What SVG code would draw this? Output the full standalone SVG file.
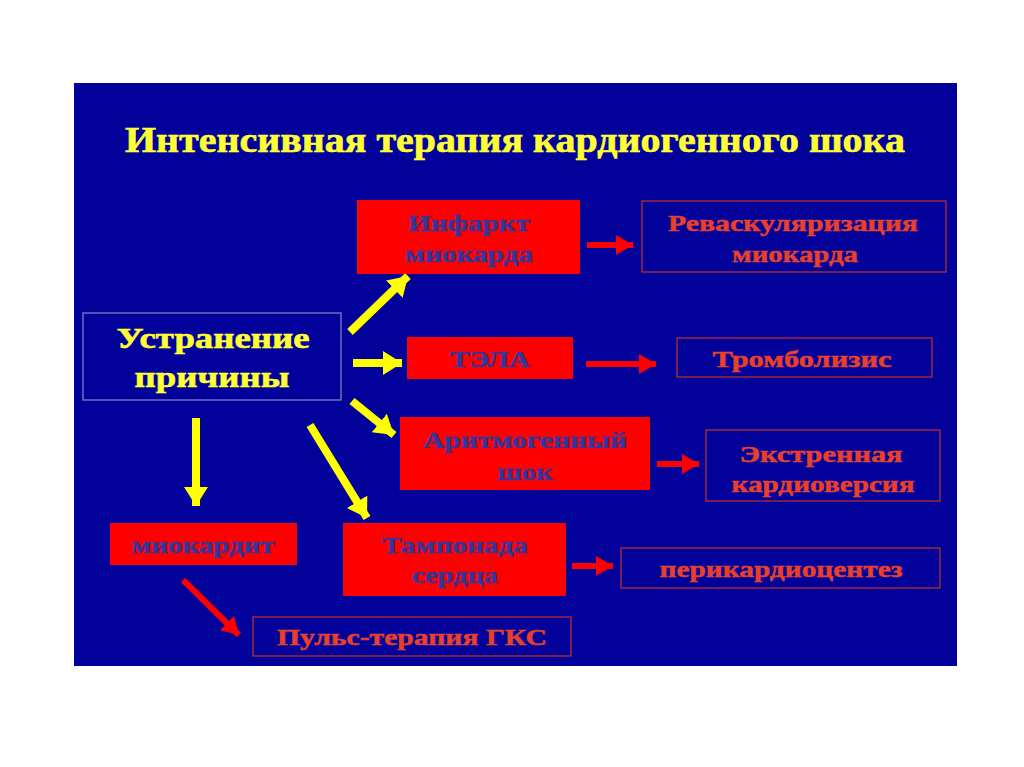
<svg xmlns="http://www.w3.org/2000/svg" width="1024" height="767" viewBox="0 0 1024 767">
<style>
text{font-family:"Liberation Serif","Times New Roman",serif;font-weight:bold;text-anchor:middle}
.title{fill:#FFFF33;stroke:#FFFF33;stroke-width:0.6;font-size:35px}
.cause{fill:#FFFF33;stroke:#FFFF33;stroke-width:0.6;font-size:30px}
.rb{fill:#FF0000}
.rt{fill:#35359A;stroke:#35359A;stroke-width:0.5;font-size:23px}
.ob{fill:none;stroke:#C8302C;stroke-width:1.2}
.ot{fill:#E8402A;stroke:#E8402A;stroke-width:0.5;font-size:24px}
.ya{stroke:#FFFF00;stroke-width:8;fill:none}
.ra{stroke:#FF0000;stroke-width:6;fill:none}
</style>
<defs>
<marker id="yh" markerUnits="userSpaceOnUse" markerWidth="26" markerHeight="26" refX="19" refY="12" orient="auto">
<path d="M0,0 L19,12 L0,24 Z" fill="#FFFF00"/>
</marker>
<marker id="rh" markerUnits="userSpaceOnUse" markerWidth="22" markerHeight="22" refX="17" refY="10" orient="auto">
<path d="M0,0 L17,10 L0,20 Z" fill="#FF0000"/>
</marker>
</defs>
<rect x="0" y="0" width="1024" height="767" fill="#FFFFFF"/>
<rect x="74" y="83" width="883" height="583" fill="#02029A"/>
<text class="title" x="515" y="152" textLength="780" lengthAdjust="spacingAndGlyphs">Интенсивная терапия кардиогенного шока</text>

<g id="connectors">
<line class="ya" x1="350" y1="332" x2="408" y2="276" marker-end="url(#yh)"/>
<line class="ya" x1="353" y1="363" x2="402" y2="363" marker-end="url(#yh)"/>
<line class="ya" x1="352" y1="401" x2="394" y2="435" marker-end="url(#yh)"/>
<line class="ya" x1="196" y1="418" x2="196" y2="506" marker-end="url(#yh)"/>
<line class="ya" x1="310" y1="425" x2="367" y2="518" marker-end="url(#yh)"/>
<line class="ra" x1="587" y1="245" x2="633" y2="245" marker-end="url(#rh)"/>
<line class="ra" x1="586" y1="364" x2="656" y2="364" marker-end="url(#rh)"/>
<line class="ra" x1="657" y1="464" x2="699" y2="464" marker-end="url(#rh)"/>
<line class="ra" x1="572" y1="566" x2="613" y2="566" marker-end="url(#rh)"/>
<line class="ra" x1="183" y1="580" x2="239" y2="635" marker-end="url(#rh)"/>
</g>

<g id="cause">
<rect x="83" y="313" width="258" height="87" fill="none" stroke="#8A8AC8" stroke-width="1.2"/>
<text class="cause" x="213" y="348" textLength="193" lengthAdjust="spacingAndGlyphs">Устранение</text>
<text class="cause" x="212" y="387" textLength="155" lengthAdjust="spacingAndGlyphs">причины</text>
</g>
<g id="infarct">
<rect class="rb" x="357" y="200" width="223" height="74"/>
<text class="rt" x="469" y="231" textLength="122" lengthAdjust="spacingAndGlyphs">Инфаркт</text>
<text class="rt" x="469" y="262" textLength="128" lengthAdjust="spacingAndGlyphs">миокарда</text>
</g>
<g id="revasc">
<rect class="ob" x="642" y="201" width="304" height="71"/>
<text class="ot" x="793" y="231" textLength="250" lengthAdjust="spacingAndGlyphs">Реваскуляризация</text>
<text class="ot" x="795" y="262" textLength="126" lengthAdjust="spacingAndGlyphs">миокарда</text>
</g>
<g id="tela">
<rect class="rb" x="407" y="337" width="166" height="42"/>
<text class="rt" x="490" y="367" textLength="80" lengthAdjust="spacingAndGlyphs">ТЭЛА</text>
</g>
<g id="thrombolysis">
<rect class="ob" x="677" y="338" width="255" height="39"/>
<text class="ot" x="802" y="367" textLength="179" lengthAdjust="spacingAndGlyphs">Тромболизис</text>
</g>
<g id="arrhythmic">
<rect class="rb" x="400" y="417" width="250" height="73"/>
<text class="rt" x="525" y="448" textLength="204" lengthAdjust="spacingAndGlyphs">Аритмогенный</text>
<text class="rt" x="525" y="480" textLength="55" lengthAdjust="spacingAndGlyphs">шок</text>
</g>
<g id="cardioversion">
<rect class="ob" x="706" y="430" width="234" height="71"/>
<text class="ot" x="821" y="462" textLength="163" lengthAdjust="spacingAndGlyphs">Экстренная</text>
<text class="ot" x="823" y="492" textLength="183" lengthAdjust="spacingAndGlyphs">кардиоверсия</text>
</g>
<g id="myocarditis">
<rect class="rb" x="110" y="523" width="187" height="42"/>
<text class="rt" x="203" y="553" textLength="143" lengthAdjust="spacingAndGlyphs">миокардит</text>
</g>
<g id="tamponade">
<rect class="rb" x="343" y="523" width="223" height="73"/>
<text class="rt" x="455" y="553" textLength="146" lengthAdjust="spacingAndGlyphs">Тампонада</text>
<text class="rt" x="455" y="583" textLength="86" lengthAdjust="spacingAndGlyphs">сердца</text>
</g>
<g id="pericardiocentesis">
<rect class="ob" x="621" y="548" width="319" height="40"/>
<text class="ot" x="781" y="577" textLength="243" lengthAdjust="spacingAndGlyphs">перикардиоцентез</text>
</g>
<g id="pulse">
<rect class="ob" x="253" y="617" width="318" height="39"/>
<text class="ot" x="412" y="645" textLength="270" lengthAdjust="spacingAndGlyphs">Пульс-терапия ГКС</text>
</g>
</svg>
